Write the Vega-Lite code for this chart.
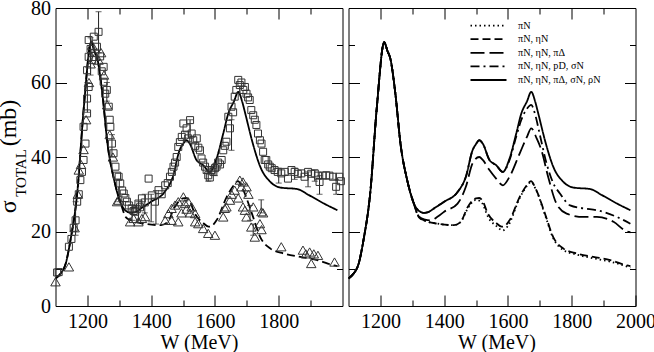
{
  "$schema": "https://vega.github.io/schema/vega-lite/v6.json",
  "background": "white",
  "padding": {"left": -4.5, "top": -3, "right": 0, "bottom": 0},
  "resolve": {"scale": {"strokeDash": "independent"}, "legend": {"strokeDash": "independent"}},
  "datasets": {
    "curves": [
      {"m":"πN","W":1100,"s":7.4},{"m":"πN","W":1116,"s":8.7},{"m":"πN","W":1132,"s":11.4},{"m":"πN","W":1147,"s":17.7},{"m":"πN","W":1168,"s":30.2},{"m":"πN","W":1189,"s":53.5},{"m":"πN","W":1212,"s":70.8},{"m":"πN","W":1222,"s":68.5},{"m":"πN","W":1231,"s":66.5},{"m":"πN","W":1247,"s":57},{"m":"πN","W":1263,"s":43.6},{"m":"πN","W":1284,"s":33.8},{"m":"πN","W":1305,"s":27.5},
      {"m":"πN","W":1321,"s":23.8},{"m":"πN","W":1337,"s":23},{"m":"πN","W":1379,"s":22.1},{"m":"πN","W":1431,"s":21.7},{"m":"πN","W":1452,"s":22.6},{"m":"πN","W":1474,"s":26.2},{"m":"πN","W":1500,"s":28.5},{"m":"πN","W":1510,"s":28.3},{"m":"πN","W":1520,"s":27.5},{"m":"πN","W":1537,"s":24},{"m":"πN","W":1563,"s":21.5},{"m":"πN","W":1584,"s":20.3},{"m":"πN","W":1600,"s":21.5},{"m":"πN","W":1637,"s":29},{"m":"πN","W":1660,"s":32.3},{"m":"πN","W":1672,"s":33.3},{"m":"πN","W":1689,"s":31},{"m":"πN","W":1716,"s":24.5},{"m":"πN","W":1742,"s":18.2},{"m":"πN","W":1774,"s":15},{"m":"πN","W":1816,"s":13.8},{"m":"πN","W":1868,"s":12.8},{"m":"πN","W":1921,"s":11.9},{"m":"πN","W":1984,"s":10.3},

      {"m":"πN, ηN","W":1100,"s":7.4},{"m":"πN, ηN","W":1116,"s":8.7},{"m":"πN, ηN","W":1132,"s":11.4},{"m":"πN, ηN","W":1147,"s":17.7},{"m":"πN, ηN","W":1168,"s":30.2},{"m":"πN, ηN","W":1189,"s":53.5},{"m":"πN, ηN","W":1212,"s":70.8},{"m":"πN, ηN","W":1222,"s":68.5},{"m":"πN, ηN","W":1231,"s":66.5},{"m":"πN, ηN","W":1247,"s":57},{"m":"πN, ηN","W":1263,"s":43.6},{"m":"πN, ηN","W":1284,"s":33.8},{"m":"πN, ηN","W":1305,"s":27.5},
      {"m":"πN, ηN","W":1321,"s":23.8},{"m":"πN, ηN","W":1337,"s":23},{"m":"πN, ηN","W":1379,"s":22.1},{"m":"πN, ηN","W":1431,"s":21.7},{"m":"πN, ηN","W":1452,"s":22.6},{"m":"πN, ηN","W":1474,"s":26.6},{"m":"πN, ηN","W":1500,"s":28.9},{"m":"πN, ηN","W":1510,"s":29},{"m":"πN, ηN","W":1520,"s":28.3},{"m":"πN, ηN","W":1537,"s":24.8},{"m":"πN, ηN","W":1563,"s":22.3},{"m":"πN, ηN","W":1580,"s":21.3},{"m":"πN, ηN","W":1590,"s":21.5},{"m":"πN, ηN","W":1605,"s":23},{"m":"πN, ηN","W":1637,"s":29.3},{"m":"πN, ηN","W":1660,"s":32.5},{"m":"πN, ηN","W":1672,"s":33.5},{"m":"πN, ηN","W":1689,"s":31.1},{"m":"πN, ηN","W":1716,"s":24.8},{"m":"πN, ηN","W":1742,"s":18.5},{"m":"πN, ηN","W":1774,"s":15.4},{"m":"πN, ηN","W":1816,"s":14.1},{"m":"πN, ηN","W":1868,"s":13.2},{"m":"πN, ηN","W":1921,"s":12.3},{"m":"πN, ηN","W":1973,"s":10.9},{"m":"πN, ηN","W":1984,"s":10.7},

      {"m":"πN, ηN, πΔ","W":1100,"s":7.4},{"m":"πN, ηN, πΔ","W":1116,"s":8.7},{"m":"πN, ηN, πΔ","W":1132,"s":11.4},{"m":"πN, ηN, πΔ","W":1147,"s":17.7},{"m":"πN, ηN, πΔ","W":1168,"s":30.2},{"m":"πN, ηN, πΔ","W":1189,"s":53.5},{"m":"πN, ηN, πΔ","W":1212,"s":70.8},{"m":"πN, ηN, πΔ","W":1222,"s":68.5},{"m":"πN, ηN, πΔ","W":1231,"s":66.5},{"m":"πN, ηN, πΔ","W":1247,"s":57},{"m":"πN, ηN, πΔ","W":1263,"s":43.6},{"m":"πN, ηN, πΔ","W":1284,"s":33.8},{"m":"πN, ηN, πΔ","W":1305,"s":27.5},
      {"m":"πN, ηN, πΔ","W":1321,"s":24},{"m":"πN, ηN, πΔ","W":1340,"s":23.2},{"m":"πN, ηN, πΔ","W":1358,"s":23},{"m":"πN, ηN, πΔ","W":1380,"s":24},{"m":"πN, ηN, πΔ","W":1400,"s":25.3},{"m":"πN, ηN, πΔ","W":1442,"s":27.5},{"m":"πN, ηN, πΔ","W":1468,"s":32},{"m":"πN, ηN, πΔ","W":1489,"s":38.3},{"m":"πN, ηN, πΔ","W":1510,"s":40},{"m":"πN, ηN, πΔ","W":1521,"s":39.2},{"m":"πN, ηN, πΔ","W":1542,"s":36.5},{"m":"πN, ηN, πΔ","W":1563,"s":34.2},{"m":"πN, ηN, πΔ","W":1584,"s":32.4},{"m":"πN, ηN, πΔ","W":1605,"s":34.7},{"m":"πN, ηN, πΔ","W":1637,"s":41},{"m":"πN, ηN, πΔ","W":1660,"s":45.5},{"m":"πN, ηN, πΔ","W":1673,"s":47.7},{"m":"πN, ηN, πΔ","W":1690,"s":45},{"m":"πN, ηN, πΔ","W":1705,"s":41.8},{"m":"πN, ηN, πΔ","W":1726,"s":34.7},{"m":"πN, ηN, πΔ","W":1752,"s":27.5},{"m":"πN, ηN, πΔ","W":1784,"s":24.8},{"m":"πN, ηN, πΔ","W":1837,"s":23.9},{"m":"πN, ηN, πΔ","W":1879,"s":23.9},{"m":"πN, ηN, πΔ","W":1931,"s":22.6},{"m":"πN, ηN, πΔ","W":1973,"s":20},{"m":"πN, ηN, πΔ","W":1984,"s":19.8},

      {"m":"πN, ηN, pD, σN","W":1100,"s":7.4},{"m":"πN, ηN, pD, σN","W":1116,"s":8.7},{"m":"πN, ηN, pD, σN","W":1132,"s":11.4},{"m":"πN, ηN, pD, σN","W":1147,"s":17.7},{"m":"πN, ηN, pD, σN","W":1168,"s":30.2},{"m":"πN, ηN, pD, σN","W":1189,"s":53.5},{"m":"πN, ηN, pD, σN","W":1212,"s":70.8},{"m":"πN, ηN, pD, σN","W":1222,"s":68.5},{"m":"πN, ηN, pD, σN","W":1231,"s":66.5},{"m":"πN, ηN, pD, σN","W":1247,"s":57},{"m":"πN, ηN, pD, σN","W":1263,"s":43.6},{"m":"πN, ηN, pD, σN","W":1284,"s":33.8},{"m":"πN, ηN, pD, σN","W":1305,"s":27.5},
      {"m":"πN, ηN, pD, σN","W":1320,"s":25.6},{"m":"πN, ηN, pD, σN","W":1337,"s":25},{"m":"πN, ηN, pD, σN","W":1350,"s":25.2},{"m":"πN, ηN, pD, σN","W":1368,"s":26.2},{"m":"πN, ηN, pD, σN","W":1400,"s":28},{"m":"πN, ηN, pD, σN","W":1442,"s":30.6},{"m":"πN, ηN, pD, σN","W":1468,"s":34.7},{"m":"πN, ηN, pD, σN","W":1489,"s":41.8},{"m":"πN, ηN, pD, σN","W":1500,"s":43.5},{"m":"πN, ηN, pD, σN","W":1510,"s":44.5},{"m":"πN, ηN, pD, σN","W":1521,"s":43.6},{"m":"πN, ηN, pD, σN","W":1542,"s":39.2},{"m":"πN, ηN, pD, σN","W":1563,"s":37.8},{"m":"πN, ηN, pD, σN","W":1584,"s":36},{"m":"πN, ηN, pD, σN","W":1605,"s":39.2},{"m":"πN, ηN, pD, σN","W":1626,"s":45.5},{"m":"πN, ηN, pD, σN","W":1642,"s":50},{"m":"πN, ηN, pD, σN","W":1660,"s":53},{"m":"πN, ηN, pD, σN","W":1673,"s":54},{"m":"πN, ηN, pD, σN","W":1685,"s":51.5},{"m":"πN, ηN, pD, σN","W":1700,"s":46},{"m":"πN, ηN, pD, σN","W":1721,"s":38.3},{"m":"πN, ηN, pD, σN","W":1742,"s":33},{"m":"πN, ηN, pD, σN","W":1763,"s":30.2},{"m":"πN, ηN, pD, σN","W":1795,"s":27},{"m":"πN, ηN, pD, σN","W":1837,"s":26.2},{"m":"πN, ηN, pD, σN","W":1879,"s":25.7},{"m":"πN, ηN, pD, σN","W":1942,"s":23.9},{"m":"πN, ηN, pD, σN","W":1984,"s":22.1},

      {"m":"πN, ηN, πΔ, σN, ρN","W":1100,"s":7.4},{"m":"πN, ηN, πΔ, σN, ρN","W":1116,"s":8.7},{"m":"πN, ηN, πΔ, σN, ρN","W":1132,"s":11.4},{"m":"πN, ηN, πΔ, σN, ρN","W":1147,"s":17.7},{"m":"πN, ηN, πΔ, σN, ρN","W":1168,"s":30.2},{"m":"πN, ηN, πΔ, σN, ρN","W":1189,"s":53.5},{"m":"πN, ηN, πΔ, σN, ρN","W":1212,"s":70.8},{"m":"πN, ηN, πΔ, σN, ρN","W":1222,"s":68.5},{"m":"πN, ηN, πΔ, σN, ρN","W":1231,"s":66.5},{"m":"πN, ηN, πΔ, σN, ρN","W":1247,"s":57},{"m":"πN, ηN, πΔ, σN, ρN","W":1263,"s":43.6},{"m":"πN, ηN, πΔ, σN, ρN","W":1284,"s":33.8},{"m":"πN, ηN, πΔ, σN, ρN","W":1305,"s":27.5},
      {"m":"πN, ηN, πΔ, σN, ρN","W":1320,"s":25.6},{"m":"πN, ηN, πΔ, σN, ρN","W":1337,"s":25},{"m":"πN, ηN, πΔ, σN, ρN","W":1350,"s":25.2},{"m":"πN, ηN, πΔ, σN, ρN","W":1368,"s":26.2},{"m":"πN, ηN, πΔ, σN, ρN","W":1400,"s":28},{"m":"πN, ηN, πΔ, σN, ρN","W":1442,"s":30.6},{"m":"πN, ηN, πΔ, σN, ρN","W":1468,"s":34.7},{"m":"πN, ηN, πΔ, σN, ρN","W":1489,"s":41.8},{"m":"πN, ηN, πΔ, σN, ρN","W":1500,"s":43.5},{"m":"πN, ηN, πΔ, σN, ρN","W":1510,"s":44.5},{"m":"πN, ηN, πΔ, σN, ρN","W":1521,"s":43.6},{"m":"πN, ηN, πΔ, σN, ρN","W":1542,"s":39.2},{"m":"πN, ηN, πΔ, σN, ρN","W":1563,"s":37.8},{"m":"πN, ηN, πΔ, σN, ρN","W":1584,"s":36},{"m":"πN, ηN, πΔ, σN, ρN","W":1605,"s":39.6},{"m":"πN, ηN, πΔ, σN, ρN","W":1626,"s":46.3},{"m":"πN, ηN, πΔ, σN, ρN","W":1642,"s":51.7},{"m":"πN, ηN, πΔ, σN, ρN","W":1660,"s":55},{"m":"πN, ηN, πΔ, σN, ρN","W":1673,"s":57.5},{"m":"πN, ηN, πΔ, σN, ρN","W":1685,"s":55},{"m":"πN, ηN, πΔ, σN, ρN","W":1695,"s":51.7},{"m":"πN, ηN, πΔ, σN, ρN","W":1716,"s":44.5},{"m":"πN, ηN, πΔ, σN, ρN","W":1742,"s":37.4},{"m":"πN, ηN, πΔ, σN, ρN","W":1774,"s":33.3},{"m":"πN, ηN, πΔ, σN, ρN","W":1805,"s":31.8},{"m":"πN, ηN, πΔ, σN, ρN","W":1858,"s":31.4},{"m":"πN, ηN, πΔ, σN, ρN","W":1894,"s":29.8},{"m":"πN, ηN, πΔ, σN, ρN","W":1942,"s":27.5},{"m":"πN, ηN, πΔ, σN, ρN","W":1984,"s":25.7}
    ],
    "squares": [
      {"W":1105,"s":9},{"W":1110,"s":9.1},{"W":1142,"s":15.9},{"W":1150,"s":18},{"W":1157,"s":21},{"W":1163,"s":23},{"W":1168,"s":28},{"W":1173,"s":30},{"W":1178,"s":33.8},{"W":1183,"s":36},{"W":1188,"s":39.2},{"W":1194,"s":43.6},{"W":1188,"s":48.1},{"W":1199,"s":51.7},{"W":1199,"s":55.7},{"W":1204,"s":58.8},{"W":1199,"s":63.3},{"W":1204,"s":66.9},{"W":1204,"s":71.4},{"W":1210,"s":69},{"W":1215,"s":66},{"W":1220,"s":72.3},{"W":1225,"s":68},{"W":1230,"s":69.6},{"W":1235,"s":73.6},{"W":1240,"s":67},{"W":1245,"s":63},{"W":1251,"s":64.2},{"W":1251,"s":60.2},{"W":1256,"s":57},{"W":1261,"s":58},{"W":1267,"s":53.5},{"W":1270,"s":50},{"W":1272,"s":48.1},{"W":1277,"s":43.6},{"W":1282,"s":41},{"W":1288,"s":37.4},{"W":1293,"s":35},{"W":1298,"s":34.7},{"W":1303,"s":32.9},{"W":1309,"s":31},{"W":1314,"s":30.2},{"W":1319,"s":29},{"W":1324,"s":28},{"W":1330,"s":27},{"W":1339,"s":26.2},{"W":1345,"s":25.5},{"W":1350,"s":25.3},{"W":1355,"s":26},{"W":1360,"s":27.5},{"W":1365,"s":26.5},{"W":1371,"s":28.9},{"W":1380,"s":27.8},{"W":1392,"s":34.2},{"W":1402,"s":29.7},{"W":1412,"s":28},{"W":1423,"s":31.1},{"W":1433,"s":30},{"W":1444,"s":32.4},{"W":1452,"s":33},{"W":1459,"s":34.7},{"W":1465,"s":36},{"W":1470,"s":37.4},{"W":1475,"s":38.5},{"W":1480,"s":40},{"W":1485,"s":42.7},{"W":1490,"s":44},{"W":1496,"s":45.4},{"W":1501,"s":49},{"W":1506,"s":46},{"W":1511,"s":47.7},{"W":1516,"s":45},{"W":1522,"s":49.9},{"W":1527,"s":46.3},{"W":1532,"s":44.5},{"W":1538,"s":43},{"W":1543,"s":45},{"W":1548,"s":42.5},{"W":1553,"s":41.8},{"W":1558,"s":39.6},{"W":1563,"s":38.5},{"W":1569,"s":37.4},{"W":1574,"s":36.5},{"W":1579,"s":35.1},{"W":1584,"s":34.5},{"W":1589,"s":36.5},{"W":1595,"s":36},{"W":1600,"s":37},{"W":1605,"s":37.4},{"W":1610,"s":38.5},{"W":1616,"s":38},{"W":1621,"s":39.2},{"W":1626,"s":41.8},{"W":1631,"s":43},{"W":1636,"s":44.1},{"W":1642,"s":50.8},{"W":1647,"s":47.7},{"W":1652,"s":53.5},{"W":1657,"s":52},{"W":1662,"s":56.2},{"W":1667,"s":58},{"W":1673,"s":60.7},{"W":1678,"s":59.3},{"W":1683,"s":60},{"W":1689,"s":58},{"W":1694,"s":58.8},{"W":1699,"s":57},{"W":1704,"s":56},{"W":1709,"s":55.3},{"W":1714,"s":52.6},{"W":1720,"s":51.2},{"W":1725,"s":50},{"W":1730,"s":48.6},{"W":1735,"s":46.3},{"W":1741,"s":44.5},{"W":1746,"s":43.6},{"W":1751,"s":41.4},{"W":1756,"s":39.2},{"W":1761,"s":39.2},{"W":1767,"s":38},{"W":1772,"s":37.4},{"W":1778,"s":37},{"W":1787,"s":36.5},{"W":1797,"s":36},{"W":1808,"s":35.6},{"W":1819,"s":36},{"W":1829,"s":34.2},{"W":1840,"s":36.5},{"W":1850,"s":36},{"W":1860,"s":35.5},{"W":1871,"s":35.6},{"W":1881,"s":34.7},{"W":1892,"s":36},{"W":1902,"s":35.5},{"W":1913,"s":35.6},{"W":1923,"s":35},{"W":1928,"s":33.3},{"W":1938,"s":35},{"W":1949,"s":35.1},{"W":1959,"s":35},{"W":1970,"s":34.7},{"W":1980,"s":32},{"W":1990,"s":34.7},{"W":1995,"s":33.5}
    ],
    "triangles": [
      {"W":1100,"s":6.5},{"W":1142,"s":10.5},{"W":1160,"s":21},{"W":1170,"s":30},{"W":1173,"s":36.5},{"W":1180,"s":38},{"W":1188,"s":42},{"W":1196,"s":50},{"W":1205,"s":60},{"W":1210,"s":65},{"W":1215,"s":70},{"W":1225,"s":67},{"W":1235,"s":66},{"W":1243,"s":68},{"W":1252,"s":62},{"W":1262,"s":54},{"W":1270,"s":46},{"W":1280,"s":40},{"W":1293,"s":28},{"W":1298,"s":28.4},{"W":1334,"s":22.6},{"W":1345,"s":23.5},{"W":1360,"s":22.6},{"W":1371,"s":23.5},{"W":1381,"s":24},{"W":1444,"s":23},{"W":1454,"s":24.8},{"W":1464,"s":26.2},{"W":1464,"s":23},{"W":1475,"s":27.1},{"W":1485,"s":28},{"W":1485,"s":22.6},{"W":1495,"s":25},{"W":1501,"s":29.3},{"W":1506,"s":27.5},{"W":1511,"s":26},{"W":1516,"s":28},{"W":1522,"s":25},{"W":1527,"s":26.6},{"W":1538,"s":24.8},{"W":1538,"s":22.6},{"W":1548,"s":22.1},{"W":1563,"s":20.8},{"W":1579,"s":19.5},{"W":1600,"s":19},{"W":1626,"s":23.9},{"W":1631,"s":26.2},{"W":1636,"s":26.6},{"W":1647,"s":28.4},{"W":1652,"s":30},{"W":1662,"s":31.1},{"W":1673,"s":29},{"W":1678,"s":33.8},{"W":1683,"s":32},{"W":1688,"s":26.6},{"W":1688,"s":33.3},{"W":1694,"s":25.7},{"W":1699,"s":23.9},{"W":1699,"s":32},{"W":1705,"s":30},{"W":1714,"s":21.2},{"W":1720,"s":26.6},{"W":1725,"s":18.5},{"W":1741,"s":22.1},{"W":1746,"s":25.3},{"W":1746,"s":20.5},{"W":1751,"s":25},{"W":1808,"s":15.9},{"W":1876,"s":15},{"W":1885,"s":14},{"W":1897,"s":14.5},{"W":1902,"s":11.4},{"W":1910,"s":14},{"W":1923,"s":13.6},{"W":1975,"s":11.8}
    ],
    "errors": [
      {"W":1235,"lo":68,"hi":79},{"W":1163,"lo":19,"hi":28},{"W":1200,"lo":52,"hi":60},{"W":1210,"lo":62,"hi":72},{"W":1261,"lo":55,"hi":60},{"W":1277,"lo":40,"hi":46},{"W":1300,"lo":28,"hi":34},{"W":1340,"lo":23,"hi":27},{"W":1360,"lo":23,"hi":28},{"W":1380,"lo":25,"hi":30},{"W":1400,"lo":22.6,"hi":30},{"W":1415,"lo":22,"hi":31},{"W":1522,"lo":45,"hi":50},{"W":1579,"lo":33.5,"hi":36},{"W":1600,"lo":35,"hi":38},{"W":1652,"lo":41.8,"hi":50},{"W":1710,"lo":23,"hi":27},{"W":1720,"lo":19,"hi":22},{"W":1745,"lo":25,"hi":28.5},{"W":1800,"lo":33,"hi":37},{"W":1850,"lo":34,"hi":37},{"W":1892,"lo":32,"hi":36},{"W":1913,"lo":33.5,"hi":36.5},{"W":1928,"lo":30,"hi":35},{"W":1980,"lo":30,"hi":34}
    ]
  },
  "hconcat": [
    {
      "width": 287,
      "height": 298,
      "resolve": {"axis": {"x": "independent", "y": "independent"}},
      "layer": [
        {
          "data": {"name": "curves"},
          "transform": [{"filter": {"field": "m", "oneOf": ["πN, ηN", "πN, ηN, πΔ, σN, ρN"]}}],
          "mark": {"type": "line", "color": "black", "strokeWidth": 1.8, "interpolate": "monotone", "clip": true},
          "encoding": {
            "x": {"field": "W", "type": "quantitative", "scale": {"domain": [1100, 2000], "nice": false, "zero": false},
              "axis": {"orient": "bottom", "values": [1200,1300,1400,1500,1600,1700,1800,1900], "format": "d", "labelExpr": "datum.value % 200 === 0 ? datum.label : ''", "tickSize": {"condition": {"test": "datum.value % 200 === 0", "value": -11}, "value": -6}, "labelPadding": 16, "title": "W (MeV)", "titlePadding": -4}},
            "y": {"field": "s", "type": "quantitative", "scale": {"domain": [0, 80], "nice": false},
              "axis": {"orient": "left", "values": [0,10,20,30,40,50,60,70,80], "labelExpr": "datum.value % 20 === 0 ? datum.label : ''", "tickSize": {"condition": {"test": "datum.value % 20 === 0", "value": -11}, "value": -6}, "labelPadding": 16, "title": "σ\u2003\u2003 (mb)", "titleFontSize": 24, "titleAngle": -90, "titleBaseline": "alphabetic", "titleAlign": "center", "titleX": -40, "titleY": 148}},
            "strokeDash": {"field": "m", "type": "nominal", "legend": null,
              "scale": {"domain": ["πN", "πN, ηN", "πN, ηN, πΔ", "πN, ηN, pD, σN", "πN, ηN, πΔ, σN, ρN"], "range": [[1.5, 3], [8, 4], [14, 5], [9, 4, 2, 4], [1, 0]]}}
          }
        },
        {
          "data": {"name": "errors"},
          "mark": {"type": "rule", "color": "#222", "strokeWidth": 1},
          "encoding": {
            "x": {"field": "W", "type": "quantitative", "scale": {"domain": [1100, 2000], "nice": false, "zero": false},
              "axis": {"orient": "top", "values": [1200,1300,1400,1500,1600,1700,1800,1900], "labels": false, "title": null, "tickSize": {"condition": {"test": "datum.value % 200 === 0", "value": -11}, "value": -6}}},
            "y": {"field": "lo", "type": "quantitative", "scale": {"domain": [0, 80], "nice": false},
              "axis": {"orient": "right", "values": [10,20,30,40,50,60,70], "labels": false, "title": null, "tickSize": {"condition": {"test": "datum.value % 20 === 0", "value": -11}, "value": -6}}},
            "y2": {"field": "hi"}
          }
        },
        {
          "data": {"name": "errors"},
          "mark": {"type": "tick", "orient": "horizontal", "color": "#222", "size": 6, "thickness": 1},
          "encoding": {
            "x": {"field": "W", "type": "quantitative", "scale": {"domain": [1100, 2000], "nice": false, "zero": false}, "axis": null},
            "y": {"field": "hi", "type": "quantitative", "scale": {"domain": [0, 80], "nice": false},
              "axis": {"orient": "left", "domain": false, "ticks": false, "labels": false, "title": "TOTAL", "titleFontSize": 15, "titleAngle": -90, "titleBaseline": "alphabetic", "titleAlign": "center", "titleX": -30, "titleY": 164.5}}
          }
        },
        {
          "data": {"name": "errors"},
          "mark": {"type": "tick", "orient": "horizontal", "color": "#222", "size": 6, "thickness": 1},
          "encoding": {
            "x": {"field": "W", "type": "quantitative", "scale": {"domain": [1100, 2000], "nice": false, "zero": false}, "axis": null},
            "y": {"field": "lo", "type": "quantitative", "scale": {"domain": [0, 80], "nice": false}, "axis": null}
          }
        },
        {
          "data": {"name": "squares"},
          "mark": {"type": "point", "shape": "square", "filled": false, "size": 49, "stroke": "#333", "strokeWidth": 1, "opacity": 1},
          "encoding": {
            "x": {"field": "W", "type": "quantitative", "scale": {"domain": [1100, 2000], "nice": false, "zero": false}, "axis": null},
            "y": {"field": "s", "type": "quantitative", "scale": {"domain": [0, 80], "nice": false}, "axis": null}
          }
        },
        {
          "data": {"name": "triangles"},
          "mark": {"type": "point", "shape": "triangle-up", "filled": false, "size": 90, "stroke": "#333", "strokeWidth": 1, "opacity": 1},
          "encoding": {
            "x": {"field": "W", "type": "quantitative", "scale": {"domain": [1100, 2000], "nice": false, "zero": false}, "axis": null},
            "y": {"field": "s", "type": "quantitative", "scale": {"domain": [0, 80], "nice": false}, "axis": null}
          }
        }
      ]
    },
    {
      "width": 287,
      "height": 298,
      "resolve": {"axis": {"x": "independent", "y": "independent"}},
      "layer": [
        {
          "data": {"name": "curves"},
          "transform": [{"filter": "datum.m !== 'πN, ηN, πΔ, σN, ρN'"}],
          "mark": {"type": "line", "color": "black", "strokeWidth": 1.8, "interpolate": "monotone", "clip": true},
          "encoding": {
            "x": {"field": "W", "type": "quantitative", "scale": {"domain": [1100, 2000], "nice": false, "zero": false},
              "axis": {"orient": "bottom", "values": [1200,1300,1400,1500,1600,1700,1800,1900,2000], "format": "d", "labelExpr": "datum.value % 200 === 0 ? datum.label : ''", "tickSize": {"condition": {"test": "datum.value % 200 === 0", "value": -11}, "value": -6}, "labelPadding": 16, "title": "W (MeV)", "titlePadding": -4, "titleX": 148}},
            "y": {"field": "s", "type": "quantitative", "scale": {"domain": [0, 80], "nice": false},
              "axis": {"orient": "left", "values": [10,20,30,40,50,60,70], "labels": false, "title": null, "tickSize": {"condition": {"test": "datum.value % 20 === 0", "value": -11}, "value": -6}}},
            "strokeDash": {"field": "m", "type": "nominal",
              "scale": {"domain": ["πN", "πN, ηN", "πN, ηN, πΔ", "πN, ηN, pD, σN", "πN, ηN, πΔ, σN, ρN"], "range": [[1.5, 3], [8, 4], [14, 5], [9, 4, 2, 4], [1, 0]]},
              "legend": {"orient": "none", "legendX": 133, "legendY": 10.6, "title": null, "symbolType": "M-3,0H3", "symbolStrokeColor": "black", "symbolStrokeWidth": 1.8, "symbolSize": 144, "labelFont": "Liberation Serif", "labelFontSize": 10.2, "labelColor": "black", "labelOffset": 22.5, "rowPadding": 0.6}}
          }
        },
        {
          "data": {"name": "curves"},
          "transform": [{"filter": "datum.m === 'πN, ηN, πΔ, σN, ρN'"}],
          "mark": {"type": "line", "color": "black", "strokeWidth": 1.8, "interpolate": "monotone", "clip": true},
          "encoding": {
            "x": {"field": "W", "type": "quantitative", "scale": {"domain": [1100, 2000], "nice": false, "zero": false},
              "axis": {"orient": "top", "values": [1200,1300,1400,1500,1600,1700,1800,1900], "labels": false, "title": null, "tickSize": {"condition": {"test": "datum.value % 200 === 0", "value": -11}, "value": -6}}},
            "y": {"field": "s", "type": "quantitative", "scale": {"domain": [0, 80], "nice": false},
              "axis": {"orient": "right", "values": [10,20,30,40,50,60,70], "labels": false, "title": null, "tickSize": {"condition": {"test": "datum.value % 20 === 0", "value": -11}, "value": -6}}},
            "strokeDash": {"field": "m", "type": "nominal",
              "scale": {"domain": ["πN", "πN, ηN", "πN, ηN, πΔ", "πN, ηN, pD, σN", "πN, ηN, πΔ, σN, ρN"], "range": [[1.5, 3], [8, 4], [14, 5], [9, 4, 2, 4], [1, 0]]}}
          }
        }
      ]
    }
  ],
  "spacing": 0,
  "config": {
    "view": {"stroke": "black", "strokeWidth": 1},
    "font": "Liberation Serif",
    "axis": {"labelFont": "Liberation Serif", "titleFont": "Liberation Serif", "labelColor": "black", "titleColor": "black", "tickColor": "black", "tickWidth": 1, "domain": false, "grid": false, "titleFontWeight": "normal", "labelFontSize": 20, "titleFontSize": 20, "labelFlush": false, "labelOverlap": false, "labelBound": false}
  }
}
